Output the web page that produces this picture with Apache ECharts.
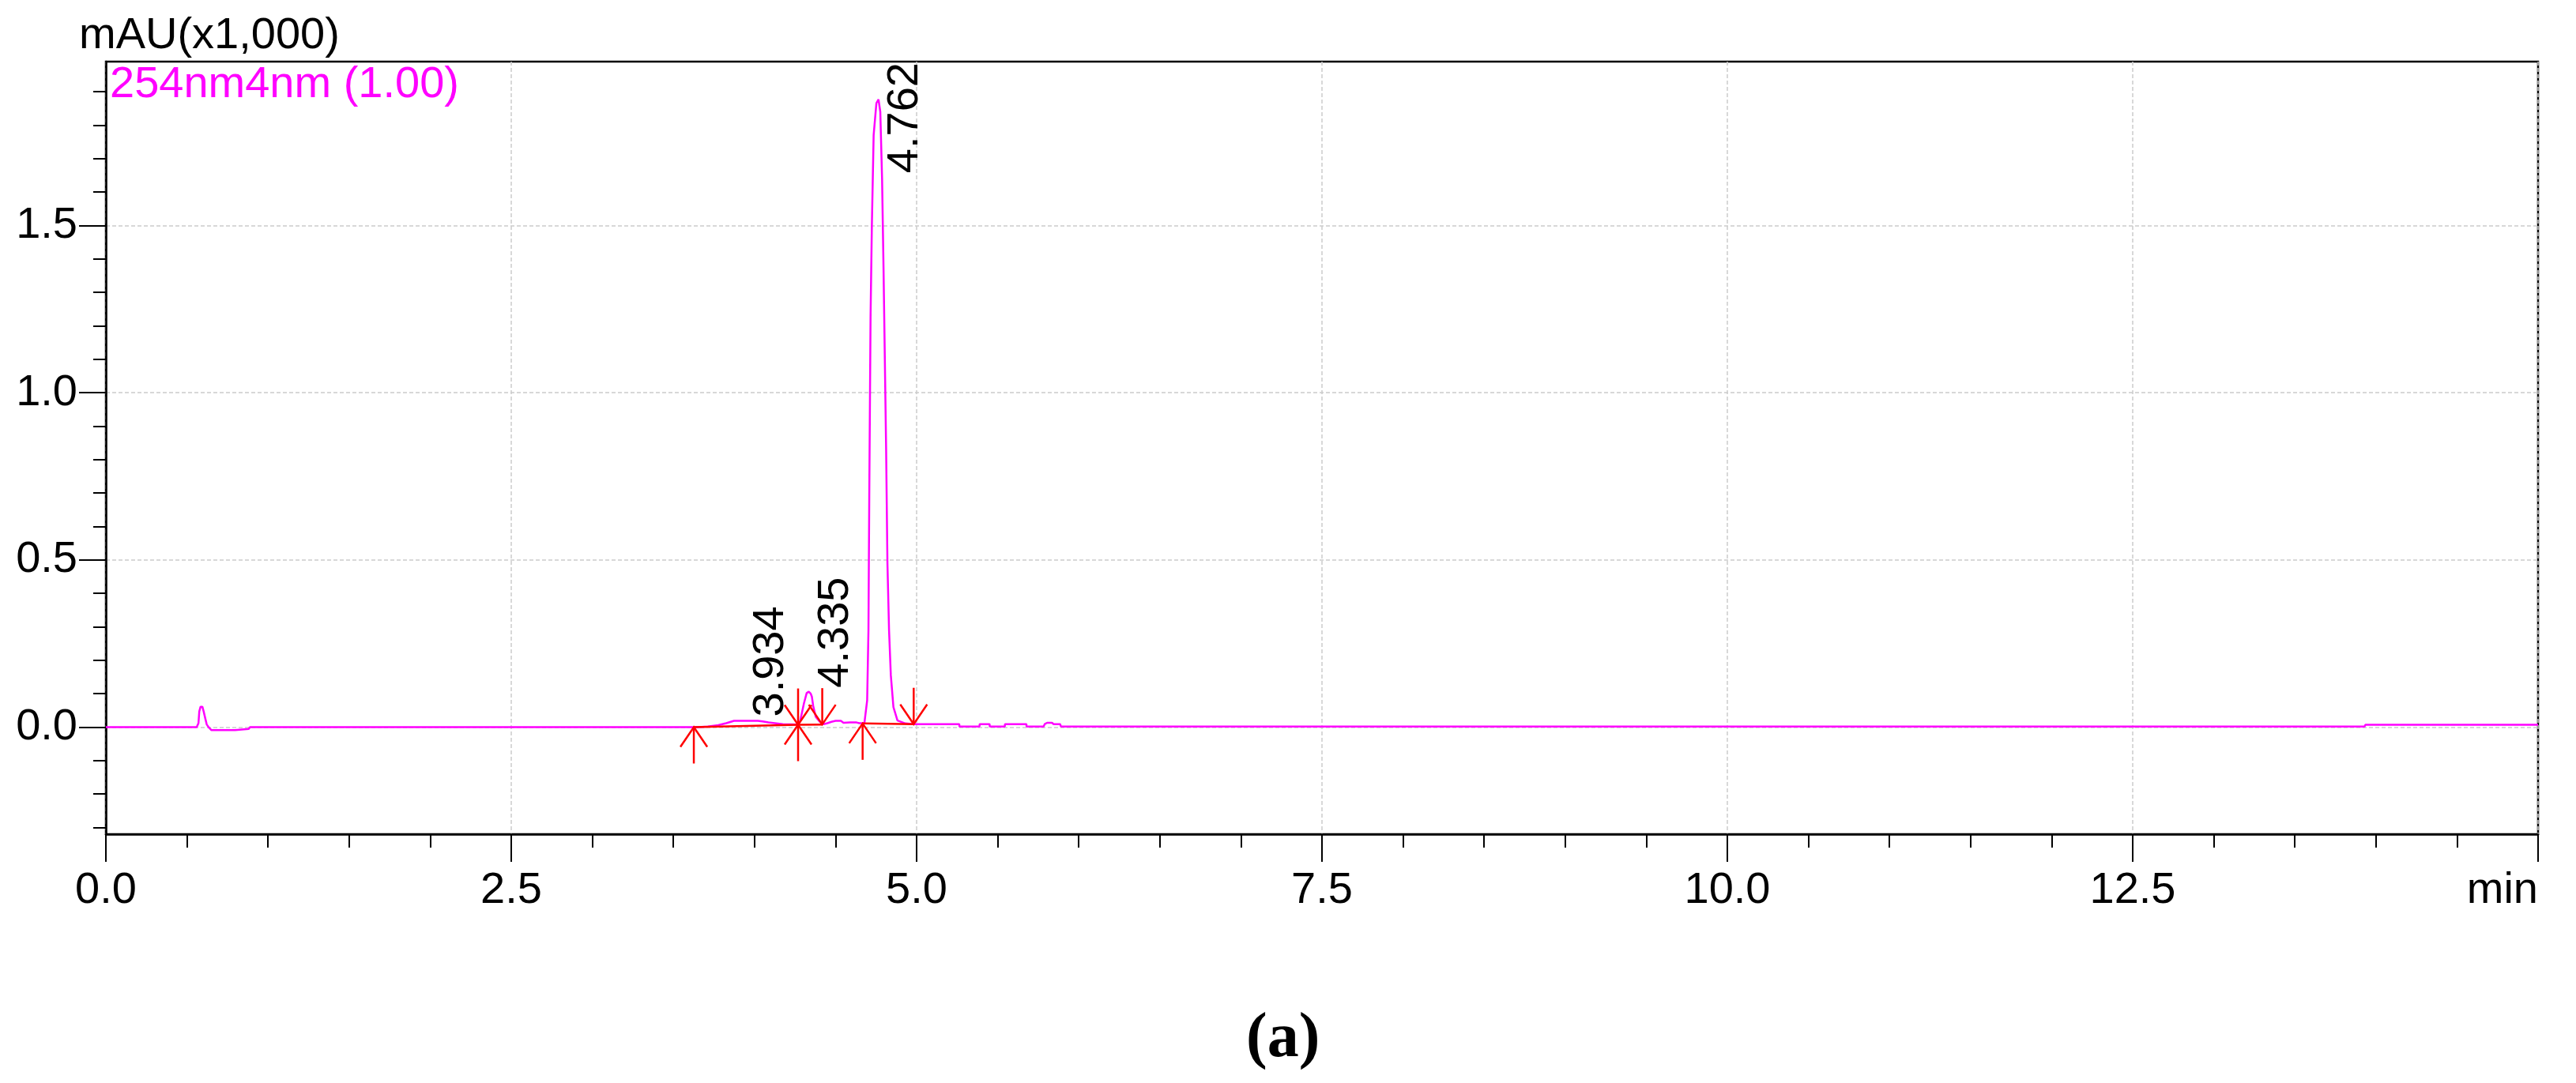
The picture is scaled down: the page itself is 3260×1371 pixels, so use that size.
<!DOCTYPE html>
<html><head><meta charset="utf-8">
<script src="https://cdn.jsdelivr.net/npm/echarts@6/dist/echarts.min.js"></script>
<style>html,body{margin:0;padding:0;background:#fff}#c{width:3260px;height:1371px}</style>
</head><body><div id="c"></div>
<script>
// ---- data ----
const traceTimes = [0.000,0.560,0.571,0.576,0.584,0.595,0.603,0.614,0.622,0.635,0.651,0.797,0.805,0.881,0.889,
  3.650,3.713,3.777,3.826,3.874,4.021,4.050,4.086,4.175,4.265,4.281,4.305,4.322,4.335,4.347,4.354,4.362,4.378,4.403,4.427,
  4.450,4.475,4.500,4.533,4.549,4.590,4.630,4.646,4.678,4.687,4.695,4.703,4.708,4.716,4.724,4.735,4.752,4.765,4.776,4.787,
  4.796,4.804,4.812,4.820,4.830,4.841,4.857,4.882,4.931,4.980,5.263,5.264,5.388,5.389,5.450,5.451,5.544,5.545,5.677,5.678,
  5.783,5.790,5.805,5.835,5.845,5.885,5.890,13.930,13.935,15.000];
const traceValues = [0.000,0.000,0.012,0.047,0.061,0.061,0.047,0.024,0.008,-0.001,-0.009,-0.009,-0.005,-0.005,0.000,
  0.000,0.002,0.006,0.012,0.019,0.019,0.017,0.014,0.009,0.008,0.016,0.071,0.102,0.106,0.100,0.091,0.064,0.031,0.016,0.009,
  0.012,0.016,0.019,0.019,0.013,0.014,0.014,0.012,0.012,0.015,0.080,0.290,0.690,1.230,1.500,1.770,1.866,1.877,1.840,1.640,
  1.370,1.100,0.830,0.490,0.290,0.155,0.060,0.020,0.011,0.009,0.009,0.002,0.002,0.009,0.009,0.002,0.002,0.009,0.009,0.002,
  0.002,0.009,0.013,0.013,0.009,0.009,0.002,0.002,0.007,0.007];

const peakTimes   = [3.934, 4.335, 4.762];
const peakHeights = [0.019, 0.106, 1.877];
const peakLabels  = ['3.934', '4.335', '4.762'];

// integration events: start (arrow up from below), end (arrow down from above), both
const eventTimes  = [3.626, 4.269, 4.418, 4.667, 4.982];
const eventLevels = [0.000, 0.007, 0.008, 0.011, 0.009];
const eventKinds  = ['start', 'both', 'end', 'start', 'end'];
const baselinePairs = [[0, 1], [1, 2], [3, 4]];

const xTickLabels = ['0.0', '2.5', '5.0', '7.5', '10.0', '12.5', 'min'];
const yMajorTicks = [0, 0.5, 1.0, 1.5];
const yMinorTicks = [-0.3, -0.2, -0.1, 0.1, 0.2, 0.3, 0.4, 0.6, 0.7, 0.8, 0.9, 1.1, 1.2, 1.3, 1.4, 1.6, 1.7, 1.8, 1.9];
const seriesName = '254nm4nm (1.00)';

// ---- chart ----
const FF = '"Liberation Sans", Arial, sans-serif';
const FS = 56;
const YMIN = -0.32, YMAX = 1.99;
const kindCode = {start: 1, end: 2, both: 3};
const measureCtx = document.createElement('canvas').getContext('2d');

const trace = traceTimes.map((t, i) => [t, traceValues[i]]);
const events = eventTimes.map((t, i) => [t, eventLevels[i], kindCode[eventKinds[i]]]);
const peaks = peakTimes.map((t, i) => [t, peakHeights[i]]);
const baseSegs = baselinePairs.map(p => ({coords: [[eventTimes[p[0]], eventLevels[p[0]]], [eventTimes[p[1]], eventLevels[p[1]]]]}));

const grid = {left: 134, top: 78, width: 3078, height: 978, show: true, borderColor: '#000', borderWidth: 2.5, backgroundColor: 'transparent'};
const gridLine = {show: true, lineStyle: {color: '#cccccc', width: 1.5, type: [5, 3]}};
const chart = echarts.init(document.getElementById('c'), null, {renderer: 'canvas'});
chart.setOption({
  animation: false,
  backgroundColor: '#fff',
  grid: grid,
  legend: {data: [{name: seriesName, icon: 'none'}], left: 134, top: 80, padding: 0, itemWidth: 0, itemGap: 0,
    selectedMode: false, textStyle: {color: '#ff00ff', fontSize: FS, fontFamily: FF}},
  graphic: [
    {type: 'text', left: 100, top: 18, style: {text: 'mAU(x1,000)', font: FS + 'px ' + FF, fill: '#000'}},
    {type: 'text', left: 1577, top: 1276, style: {text: '(a)', font: 'bold 80px "Liberation Serif", "Times New Roman", serif', fill: '#000'}}
  ],
  xAxis: {
    type: 'value', min: 0, max: 15, interval: 2.5,
    axisLine: {onZero: false, lineStyle: {color: '#000', width: 2.5}},
    axisTick: {length: 35, lineStyle: {color: '#000', width: 2}},
    minorTick: {show: true, splitNumber: 5, length: 17, lineStyle: {color: '#000', width: 2}},
    axisLabel: {margin: 44, fontSize: FS, fontFamily: FF, color: '#000', showMaxLabel: true, showMinLabel: true,
      alignMaxLabel: 'right', formatter: v => xTickLabels[Math.round(v / 2.5)]},
    splitLine: gridLine
  },
  yAxis: [
    {type: 'value', min: YMIN, max: YMAX, position: 'left',
      axisLine: {show: true, onZero: false, lineStyle: {color: '#000', width: 2.5}},
      axisTick: {show: true, customValues: yMinorTicks, length: 16, lineStyle: {color: '#000', width: 2}},
      axisLabel: {show: false}, splitLine: {show: false}},
    {type: 'value', min: YMIN, max: YMAX, position: 'left', offset: 0,
      axisLine: {show: false},
      axisTick: {show: true, customValues: yMajorTicks, length: 34, lineStyle: {color: '#000', width: 2}},
      axisLabel: {show: true, customValues: yMajorTicks, margin: 36, fontSize: FS, fontFamily: FF, color: '#000',
        formatter: v => v.toFixed(1)},
      splitLine: gridLine}
  ],
  series: [
    {name: seriesName, type: 'line', data: trace, showSymbol: false, symbol: 'none', z: 3,
      lineStyle: {color: '#ff00ff', width: 2.5}, itemStyle: {color: '#ff00ff'}},
    {type: 'lines', coordinateSystem: 'cartesian2d', data: baseSegs, z: 4,
      lineStyle: {color: '#ff0000', width: 2.5, opacity: 1}},
    {type: 'custom', data: events, z: 5, clip: false,
      renderItem: function (params, api) {
        const p = api.coord([api.value(0), api.value(1)]);
        const k = api.value(2);
        const S = 46, AX = 17, AY = 25;
        const st = {stroke: '#ff0000', lineWidth: 2.5, fill: null};
        const ch = [];
        if (k & 1) {
          ch.push({type: 'polyline', shape: {points: [[p[0], p[1]], [p[0], p[1] + S]]}, style: st});
          ch.push({type: 'polyline', shape: {points: [[p[0] - AX, p[1] + AY], [p[0], p[1]], [p[0] + AX, p[1] + AY]]}, style: st});
        }
        if (k & 2) {
          ch.push({type: 'polyline', shape: {points: [[p[0], p[1]], [p[0], p[1] - S]]}, style: st});
          ch.push({type: 'polyline', shape: {points: [[p[0] - AX, p[1] - AY], [p[0], p[1]], [p[0] + AX, p[1] - AY]]}, style: st});
        }
        return {type: 'group', children: ch};
      }},
    {type: 'custom', data: peaks, z: 6, clip: false,
      renderItem: function (params, api) {
        const text = peakLabels[params.dataIndex];
        const p = api.coord([api.value(0), api.value(1)]);
        const font = FS + 'px ' + FF;
        measureCtx.font = font;
        const L = measureCtx.measureText(text).width;
        const top = params.coordSys.y;
        let y = p[1] - 5;
        if (y - L < top + 1) y = top + 1 + L;
        return {type: 'text', x: p[0] + 6, y: y, rotation: Math.PI / 2,
          style: {text: text, font: font, fill: '#000', align: 'left', verticalAlign: 'top'}};
      }}
  ]
});
</script></body></html>
